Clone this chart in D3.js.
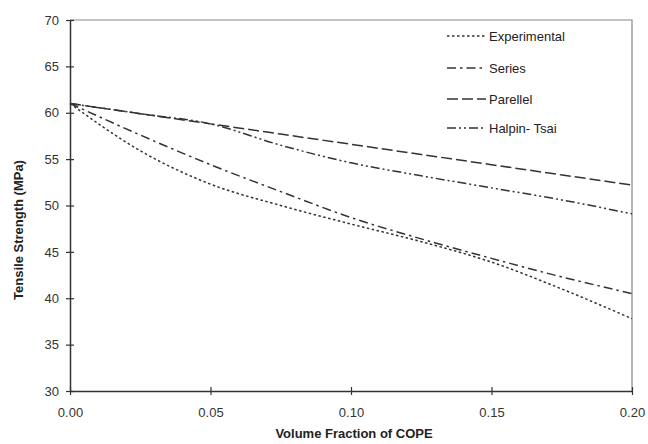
<!DOCTYPE html>
<html>
<head>
<meta charset="utf-8">
<script src="https://cdn.jsdelivr.net/npm/d3@7"></script>
<style>
  html, body { margin: 0; padding: 0; background: #fff; }
  svg { display: block; font-family: "Liberation Sans", Arial, sans-serif; }
</style>
</head>
<body>
<svg id="chart" width="648" height="444"></svg>
<script>
// ---- data ----
const volumeFraction = [0, 0.025, 0.05, 0.075, 0.1, 0.125, 0.15, 0.175, 0.2];
const experimental   = [61, 55.9, 52.3, 50.0, 48.0, 46.1, 43.9, 41.0, 37.8];
const series         = [61, 57.6, 54.4, 51.5, 48.7, 46.4, 44.3, 42.3, 40.5];
const parallel       = [61, 59.9, 58.8, 57.7, 56.6, 55.5, 54.4, 53.3, 52.2];
const halpinTsai     = [61, 59.9, 58.8, 56.5, 54.6, 53.2, 51.9, 50.6, 49.1];
const seriesNames    = ["Experimental", "Series", "Parellel", "Halpin- Tsai"];
const xTicks = [0, 0.05, 0.10, 0.15, 0.20];
const yTicks = [30, 35, 40, 45, 50, 55, 60, 65, 70];

const svg = d3.select("#chart");
const pLeft = 70, pRight = 632, pTop = 20, pBottom = 391;

const x = d3.scaleLinear().domain([0, 0.2]).range([pLeft, pRight]);
const y = d3.scaleLinear().domain([30, 70]).range([pBottom, pTop]);

// frame (top & right)
svg.append("path")
  .attr("d", `M${pLeft},${pTop}H${pRight}V${pBottom}`)
  .attr("fill", "none").attr("stroke", "#888").attr("stroke-width", 1.2);

// axes
const xAxis = d3.axisBottom(x).tickValues(xTicks).tickFormat(d3.format(".2f"))
  .tickSizeInner(4).tickSizeOuter(0).tickPadding(13);
const gx = svg.append("g").attr("transform", `translate(0,${pBottom})`).call(xAxis);
const yAxis = d3.axisLeft(y).tickValues(yTicks).tickFormat(d3.format("d"))
  .tickSizeInner(4).tickSizeOuter(0).tickPadding(8);
const gy = svg.append("g").attr("transform", `translate(${pLeft},0)`).call(yAxis);

[gx, gy].forEach(g => {
  g.select(".domain").attr("stroke", "#333").attr("stroke-width", 1.5);
  g.selectAll(".tick line").attr("stroke", "#333").attr("stroke-width", 1.2);
  g.selectAll(".tick text").attr("fill", "#333").attr("font-size", 13)
    .attr("font-family", "Liberation Sans, Arial, sans-serif");
});
// cross ticks (extend inward)
gx.selectAll(".tick line").attr("y1", -4).attr("y2", 4);
gy.selectAll(".tick line").attr("x1", -4).attr("x2", 4);
gy.selectAll(".tick text").attr("x", -11);

// axis titles
svg.append("text")
  .attr("x", 354).attr("y", 438).attr("text-anchor", "middle")
  .attr("font-size", 13).attr("font-weight", "bold").attr("fill", "#222")
  .text("Volume Fraction of COPE");
svg.append("text")
  .attr("transform", "translate(23,230) rotate(-90)")
  .attr("text-anchor", "middle")
  .attr("font-size", 13).attr("font-weight", "bold").attr("fill", "#222")
  .text("Tensile Strength (MPa)");

// lines
const dashes = ["2.5,2.5", "9,4,2.5,4", "11,4", "9,3,2,3,2,3"];
const allSeries = [experimental, series, parallel, halpinTsai];
const line = d3.line()
  .x((d, i) => x(volumeFraction[i]))
  .y(d => y(d))
  .curve(d3.curveMonotoneX);

allSeries.forEach((vals, k) => {
  svg.append("path")
    .datum(vals)
    .attr("d", line)
    .attr("fill", "none")
    .attr("stroke", "#333")
    .attr("stroke-width", 1.5)
    .attr("stroke-dasharray", dashes[k]);
});

// legend
const legendY = [36, 68, 99, 128];
seriesNames.forEach((name, k) => {
  svg.append("line")
    .attr("x1", 447).attr("x2", 486)
    .attr("y1", legendY[k]).attr("y2", legendY[k])
    .attr("stroke", "#333").attr("stroke-width", 1.5)
    .attr("stroke-dasharray", dashes[k]);
  svg.append("text")
    .attr("x", 489).attr("y", legendY[k] + 4.5)
    .attr("font-size", 13).attr("fill", "#222")
    .text(name);
});
</script>
</body>
</html>
